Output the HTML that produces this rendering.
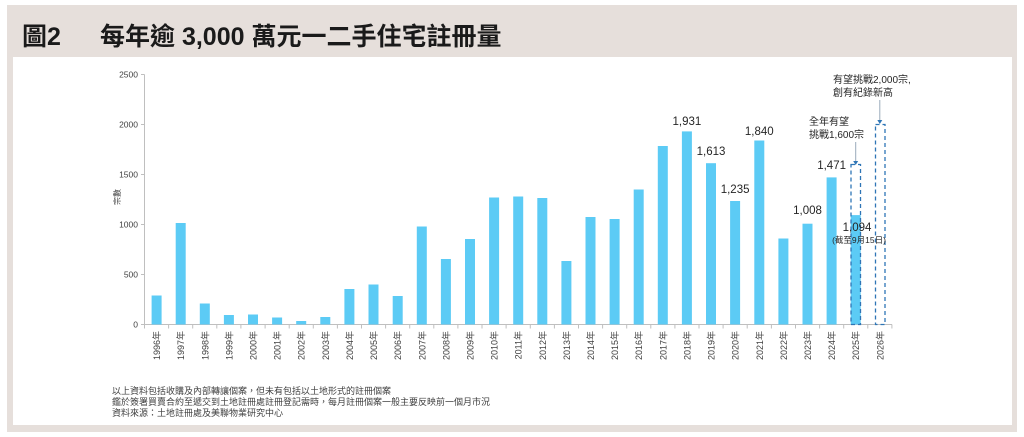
<!DOCTYPE html>
<html><head><meta charset="utf-8"><style>
html,body{margin:0;padding:0;background:#fff;}
svg{display:block;}
text{font-family:"Liberation Sans","Noto Sans CJK TC",sans-serif;}
</style></head><body>
<svg width="1024" height="437" viewBox="0 0 1024 437" xmlns="http://www.w3.org/2000/svg">
<rect x="7" y="5" width="1010" height="427" fill="#e6dfdb"/>
<rect x="13" y="57" width="999" height="368" fill="#fff"/>
<text x="22" y="45" font-size="25" font-weight="bold" fill="#1a1a1a">圖2</text>
<text x="100" y="45" font-size="25" font-weight="bold" fill="#1a1a1a">每年逾 3,000 萬元一二手住宅註冊量</text>

<!-- y axis -->
<g font-size="8.5" fill="#404040" text-anchor="end">
<text x="138" y="77.5">2500</text>
<text x="138" y="127.5">2000</text>
<text x="138" y="177.5">1500</text>
<text x="138" y="227.5">1000</text>
<text x="138" y="277.5">500</text>
<text x="138" y="327.5">0</text>
</g>
<g stroke="#bfbfbf" stroke-width="1">
<line x1="144.5" y1="74.5" x2="144.5" y2="324.5"/>
<line x1="141" y1="74.5" x2="144.5" y2="74.5"/>
<line x1="141" y1="124.5" x2="144.5" y2="124.5"/>
<line x1="141" y1="174.5" x2="144.5" y2="174.5"/>
<line x1="141" y1="224.5" x2="144.5" y2="224.5"/>
<line x1="141" y1="274.5" x2="144.5" y2="274.5"/>
<line x1="141" y1="324.5" x2="892" y2="324.5"/>
</g>
<text transform="translate(120,197) rotate(-90)" font-size="8" fill="#404040" text-anchor="middle">宗數</text>

<!-- bars -->
<g fill="#5ccbf5">
<rect x="151.6" y="295.5" width="10" height="29"/>
<rect x="175.7" y="223" width="10" height="101.5"/>
<rect x="199.8" y="303.5" width="10" height="21"/>
<rect x="223.9" y="315" width="10" height="9.5"/>
<rect x="248.0" y="314.5" width="10" height="10"/>
<rect x="272.1" y="317.5" width="10" height="7"/>
<rect x="296.2" y="321" width="10" height="3.5"/>
<rect x="320.3" y="317" width="10" height="7.5"/>
<rect x="344.4" y="289" width="10" height="35.5"/>
<rect x="368.5" y="284.5" width="10" height="40"/>
<rect x="392.7" y="296" width="10" height="28.5"/>
<rect x="416.8" y="226.5" width="10" height="98"/>
<rect x="440.9" y="259" width="10" height="65.5"/>
<rect x="465.0" y="239" width="10" height="85.5"/>
<rect x="489.1" y="197.5" width="10" height="127"/>
<rect x="513.2" y="196.5" width="10" height="128"/>
<rect x="537.3" y="198" width="10" height="126.5"/>
<rect x="561.4" y="261" width="10" height="63.5"/>
<rect x="585.5" y="217" width="10" height="107.5"/>
<rect x="609.6" y="219" width="10" height="105.5"/>
<rect x="633.7" y="189.5" width="10" height="135"/>
<rect x="657.8" y="146" width="10" height="178.5"/>
<rect x="681.9" y="131.4" width="10" height="193.1"/>
<rect x="706.0" y="163.2" width="10" height="161.3"/>
<rect x="730.1" y="201" width="10" height="123.5"/>
<rect x="754.3" y="140.5" width="10" height="184"/>
<rect x="778.4" y="238.5" width="10" height="86"/>
<rect x="802.5" y="223.7" width="10" height="100.8"/>
<rect x="826.6" y="177.4" width="10" height="147.1"/>
<rect x="850.7" y="215.1" width="10" height="109.4"/>
</g>

<!-- x ticks -->
<g stroke="#bfbfbf" stroke-width="1">
<line x1="144.5" y1="324.5" x2="144.5" y2="328.5"/>
<line x1="168.6" y1="324.5" x2="168.6" y2="328.5"/>
<line x1="192.7" y1="324.5" x2="192.7" y2="328.5"/>
<line x1="216.8" y1="324.5" x2="216.8" y2="328.5"/>
<line x1="240.9" y1="324.5" x2="240.9" y2="328.5"/>
<line x1="265.1" y1="324.5" x2="265.1" y2="328.5"/>
<line x1="289.2" y1="324.5" x2="289.2" y2="328.5"/>
<line x1="313.3" y1="324.5" x2="313.3" y2="328.5"/>
<line x1="337.4" y1="324.5" x2="337.4" y2="328.5"/>
<line x1="361.5" y1="324.5" x2="361.5" y2="328.5"/>
<line x1="385.6" y1="324.5" x2="385.6" y2="328.5"/>
<line x1="409.7" y1="324.5" x2="409.7" y2="328.5"/>
<line x1="433.8" y1="324.5" x2="433.8" y2="328.5"/>
<line x1="457.9" y1="324.5" x2="457.9" y2="328.5"/>
<line x1="482.0" y1="324.5" x2="482.0" y2="328.5"/>
<line x1="506.1" y1="324.5" x2="506.1" y2="328.5"/>
<line x1="530.3" y1="324.5" x2="530.3" y2="328.5"/>
<line x1="554.4" y1="324.5" x2="554.4" y2="328.5"/>
<line x1="578.5" y1="324.5" x2="578.5" y2="328.5"/>
<line x1="602.6" y1="324.5" x2="602.6" y2="328.5"/>
<line x1="626.7" y1="324.5" x2="626.7" y2="328.5"/>
<line x1="650.8" y1="324.5" x2="650.8" y2="328.5"/>
<line x1="674.9" y1="324.5" x2="674.9" y2="328.5"/>
<line x1="699.0" y1="324.5" x2="699.0" y2="328.5"/>
<line x1="723.1" y1="324.5" x2="723.1" y2="328.5"/>
<line x1="747.2" y1="324.5" x2="747.2" y2="328.5"/>
<line x1="771.4" y1="324.5" x2="771.4" y2="328.5"/>
<line x1="795.5" y1="324.5" x2="795.5" y2="328.5"/>
<line x1="819.6" y1="324.5" x2="819.6" y2="328.5"/>
<line x1="843.7" y1="324.5" x2="843.7" y2="328.5"/>
<line x1="867.8" y1="324.5" x2="867.8" y2="328.5"/>
<line x1="891.9" y1="324.5" x2="891.9" y2="328.5"/>
</g>

<!-- x labels -->
<g font-size="9" fill="#404040" text-anchor="end">
<text transform="translate(160.1,331) rotate(-90)">1996年</text>
<text transform="translate(184.2,331) rotate(-90)">1997年</text>
<text transform="translate(208.3,331) rotate(-90)">1998年</text>
<text transform="translate(232.4,331) rotate(-90)">1999年</text>
<text transform="translate(256.5,331) rotate(-90)">2000年</text>
<text transform="translate(280.6,331) rotate(-90)">2001年</text>
<text transform="translate(304.7,331) rotate(-90)">2002年</text>
<text transform="translate(328.8,331) rotate(-90)">2003年</text>
<text transform="translate(352.9,331) rotate(-90)">2004年</text>
<text transform="translate(377.0,331) rotate(-90)">2005年</text>
<text transform="translate(401.2,331) rotate(-90)">2006年</text>
<text transform="translate(425.3,331) rotate(-90)">2007年</text>
<text transform="translate(449.4,331) rotate(-90)">2008年</text>
<text transform="translate(473.5,331) rotate(-90)">2009年</text>
<text transform="translate(497.6,331) rotate(-90)">2010年</text>
<text transform="translate(521.7,331) rotate(-90)">2011年</text>
<text transform="translate(545.8,331) rotate(-90)">2012年</text>
<text transform="translate(569.9,331) rotate(-90)">2013年</text>
<text transform="translate(594.0,331) rotate(-90)">2014年</text>
<text transform="translate(618.1,331) rotate(-90)">2015年</text>
<text transform="translate(642.2,331) rotate(-90)">2016年</text>
<text transform="translate(666.3,331) rotate(-90)">2017年</text>
<text transform="translate(690.4,331) rotate(-90)">2018年</text>
<text transform="translate(714.5,331) rotate(-90)">2019年</text>
<text transform="translate(738.6,331) rotate(-90)">2020年</text>
<text transform="translate(762.8,331) rotate(-90)">2021年</text>
<text transform="translate(786.9,331) rotate(-90)">2022年</text>
<text transform="translate(811.0,331) rotate(-90)">2023年</text>
<text transform="translate(835.1,331) rotate(-90)">2024年</text>
<text transform="translate(859.2,331) rotate(-90)">2025年</text>
<text transform="translate(883.3,331) rotate(-90)">2026年</text>
</g>

<!-- dashed boxes -->
<g fill="none" stroke="#2e75b6" stroke-width="1.3" stroke-dasharray="4 3">
<rect x="851" y="164.5" width="9.5" height="160"/>
<rect x="875.5" y="124.5" width="9.5" height="200"/>
</g>

<!-- arrows -->
<g stroke="#9aaabb" stroke-width="1">
<line x1="855.7" y1="142" x2="855.7" y2="162"/>
<line x1="879.8" y1="100" x2="879.8" y2="121"/>
</g>
<g fill="#2e75b6">
<path d="M853.2,161 L858.2,161 L855.7,165 Z"/>
<path d="M877.3,120 L882.3,120 L879.8,124 Z"/>
</g>

<!-- data labels -->
<g font-size="11.5" fill="#262626" text-anchor="middle">
<text x="686.9" y="125">1,931</text>
<text x="711" y="155">1,613</text>
<text x="735.1" y="193">1,235</text>
<text x="759.3" y="135">1,840</text>
<text x="807.5" y="214">1,008</text>
<text x="831.6" y="169">1,471</text>
<text x="857" y="231">1,094</text>
</g>
<text x="859" y="243" font-size="8.5" fill="#262626" text-anchor="middle">(截至9月15日)</text>

<!-- annotations -->
<g font-size="10" fill="#262626">
<text x="809" y="125">全年有望</text>
<text x="809" y="138">挑戰1,600宗</text>
<text x="833" y="83">有望挑戰2,000宗,</text>
<text x="833" y="96">創有紀錄新高</text>
</g>

<!-- footer -->
<g font-size="9" fill="#404040">
<text x="112" y="394">以上資料包括收購及內部轉讓個案，但未有包括以土地形式的註冊個案</text>
<text x="112" y="405">鑑於簽署買賣合約至遞交到土地註冊處註冊登記需時，每月註冊個案一般主要反映前一個月市況</text>
<text x="112" y="416">資料來源：土地註冊處及美聯物業研究中心</text>
</g>
</svg>
</body></html>
